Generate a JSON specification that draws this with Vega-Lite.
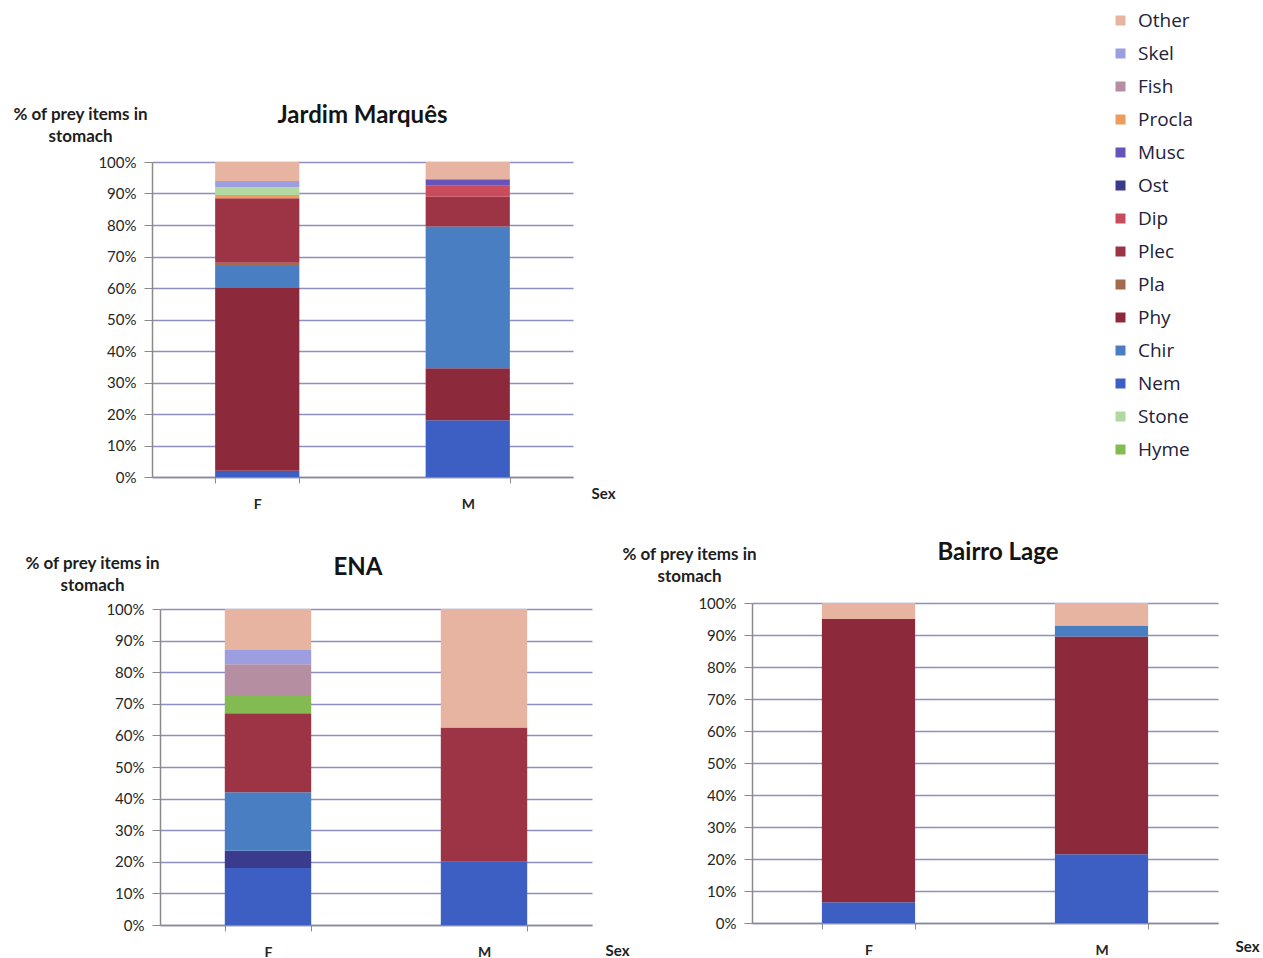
{
  "$schema": "https://vega.github.io/schema/vega-lite/v6.json",
  "autosize": {"type": "none"},
  "padding": {"left": 152, "top": 162, "right": 1111, "bottom": 796},
  "background": "white",
  "data": {
    "values": [
      {"site": "Jardim Marquês", "sex": "F", "prey": "Nem", "share": 2},
      {"site": "Jardim Marquês", "sex": "F", "prey": "Phy", "share": 58},
      {"site": "Jardim Marquês", "sex": "F", "prey": "Chir", "share": 7},
      {"site": "Jardim Marquês", "sex": "F", "prey": "Pla", "share": 1},
      {"site": "Jardim Marquês", "sex": "F", "prey": "Plec", "share": 20.5},
      {"site": "Jardim Marquês", "sex": "F", "prey": "Procla", "share": 1},
      {"site": "Jardim Marquês", "sex": "F", "prey": "Stone", "share": 2.5},
      {"site": "Jardim Marquês", "sex": "F", "prey": "Skel", "share": 2},
      {"site": "Jardim Marquês", "sex": "F", "prey": "Other", "share": 6},
      {"site": "Jardim Marquês", "sex": "M", "prey": "Nem", "share": 18},
      {"site": "Jardim Marquês", "sex": "M", "prey": "Phy", "share": 16.5},
      {"site": "Jardim Marquês", "sex": "M", "prey": "Chir", "share": 45},
      {"site": "Jardim Marquês", "sex": "M", "prey": "Plec", "share": 9.5},
      {"site": "Jardim Marquês", "sex": "M", "prey": "Dip", "share": 3.5},
      {"site": "Jardim Marquês", "sex": "M", "prey": "Musc", "share": 2},
      {"site": "Jardim Marquês", "sex": "M", "prey": "Other", "share": 5.5},
      {"site": "ENA", "sex": "F", "prey": "Nem", "share": 18},
      {"site": "ENA", "sex": "F", "prey": "Ost", "share": 5.5},
      {"site": "ENA", "sex": "F", "prey": "Chir", "share": 18.5},
      {"site": "ENA", "sex": "F", "prey": "Plec", "share": 25},
      {"site": "ENA", "sex": "F", "prey": "Hyme", "share": 5.5},
      {"site": "ENA", "sex": "F", "prey": "Fish", "share": 10},
      {"site": "ENA", "sex": "F", "prey": "Skel", "share": 4.5},
      {"site": "ENA", "sex": "F", "prey": "Other", "share": 13},
      {"site": "ENA", "sex": "M", "prey": "Nem", "share": 20},
      {"site": "ENA", "sex": "M", "prey": "Plec", "share": 42.5},
      {"site": "ENA", "sex": "M", "prey": "Other", "share": 37.5},
      {"site": "Bairro Lage", "sex": "F", "prey": "Nem", "share": 6.5},
      {"site": "Bairro Lage", "sex": "F", "prey": "Phy", "share": 88.5},
      {"site": "Bairro Lage", "sex": "F", "prey": "Other", "share": 5},
      {"site": "Bairro Lage", "sex": "M", "prey": "Nem", "share": 21.5},
      {"site": "Bairro Lage", "sex": "M", "prey": "Phy", "share": 68},
      {"site": "Bairro Lage", "sex": "M", "prey": "Chir", "share": 3.5},
      {"site": "Bairro Lage", "sex": "M", "prey": "Other", "share": 7}
    ]
  },
  "bounds": "flush",
  "spacing": 126,
  "vconcat": [
    {
      "title": {"text": "Jardim Marquês", "offset": 0, "dy": 23, "frame": "group"},
      "width": 421,
      "height": 315,
      "transform": [
        {"filter": "datum.site === 'Jardim Marquês'"},
        {"calculate": "indexof(['Nem','Phy','Ost','Chir','Pla','Plec','Dip','Musc','Procla','Stone','Hyme','Fish','Skel','Other'], datum.prey)", "as": "stackOrder"}
      ],
      "mark": {"type": "bar"},
      "encoding": {
        "x": {"field": "sex", "type": "nominal", "scale": {"paddingInner": 0.6, "paddingOuter": 0.3},
              "axis": {"title": "Sex", "titleX": 451, "titleY": 16, "tickBand": "extent"}},
        "y": {"field": "share", "type": "quantitative", "stack": "zero", "scale": {"domain": [0, 100]},
              "axis": {"title": ["% of prey items in", "stomach"], "titleX": -72, "titleY": -56,
                       "values": [0, 10, 20, 30, 40, 50, 60, 70, 80, 90, 100], "labelExpr": "datum.value + '%'"}},
        "color": {"field": "prey", "type": "nominal",
                  "scale": {"domain": ["Other", "Skel", "Fish", "Procla", "Musc", "Ost", "Dip", "Plec", "Pla", "Phy", "Chir", "Nem", "Stone", "Hyme"],
                            "range": ["#e8b4a2", "#9c9ee0", "#b68ea2", "#ec9c5c", "#6654b8", "#3b3b8e", "#c84c5c", "#9c3445", "#a46a4c", "#8c2a3c", "#4a7ec2", "#3d5ec2", "#b2d8a2", "#84ba52"]},
                  "legend": {"orient": "none", "legendX": 959, "legendY": -151, "title": null}},
        "order": {"field": "stackOrder", "type": "quantitative"}
      }
    },
    {
      "bounds": "flush",
      "spacing": 0,
      "hconcat": [
        {"data": {"values": []}, "mark": "point", "width": 8, "height": 1},
        {
          "title": {"text": "ENA", "offset": 0, "dy": 26, "dx": -18, "frame": "group"},
          "width": 432,
          "height": 322,
          "transform": [
            {"filter": "datum.site === 'ENA'"},
            {"calculate": "indexof(['Nem','Phy','Ost','Chir','Pla','Plec','Dip','Musc','Procla','Stone','Hyme','Fish','Skel','Other'], datum.prey)", "as": "stackOrder"}
          ],
          "mark": {"type": "bar"},
          "encoding": {
            "x": {"field": "sex", "type": "nominal", "scale": {"paddingInner": 0.6, "paddingOuter": 0.3},
                  "axis": {"title": "Sex", "titleX": 457, "titleY": 25, "tickBand": "extent"}},
            "y": {"field": "share", "type": "quantitative", "stack": "zero", "scale": {"domain": [0, 100], "range": [322, 6]},
                  "axis": {"title": ["% of prey items in", "stomach"], "titleX": -68, "titleY": -48,
                           "values": [0, 10, 20, 30, 40, 50, 60, 70, 80, 90, 100], "labelExpr": "datum.value + '%'"}},
            "color": {"field": "prey", "type": "nominal",
                      "legend": {"orient": "none", "legendX": 959, "legendY": -151, "title": null}},
            "order": {"field": "stackOrder", "type": "quantitative"}
          }
        },
        {"data": {"values": []}, "mark": "point", "width": 160, "height": 1},
        {
          "title": {"text": "Bairro Lage", "offset": 0, "dy": 20, "dx": 13, "frame": "group"},
          "width": 466,
          "height": 320,
          "transform": [
            {"filter": "datum.site === 'Bairro Lage'"},
            {"calculate": "indexof(['Nem','Phy','Ost','Chir','Pla','Plec','Dip','Musc','Procla','Stone','Hyme','Fish','Skel','Other'], datum.prey)", "as": "stackOrder"}
          ],
          "mark": {"type": "bar"},
          "encoding": {
            "x": {"field": "sex", "type": "nominal", "scale": {"paddingInner": 0.6, "paddingOuter": 0.3},
                  "axis": {"title": "Sex", "titleX": 495, "titleY": 23, "tickBand": "extent"}},
            "y": {"field": "share", "type": "quantitative", "stack": "zero", "scale": {"domain": [0, 100]},
                  "axis": {"title": ["% of prey items in", "stomach"], "titleX": -63, "titleY": -57,
                           "values": [0, 10, 20, 30, 40, 50, 60, 70, 80, 90, 100], "labelExpr": "datum.value + '%'"}},
            "color": {"field": "prey", "type": "nominal",
                      "legend": {"orient": "none", "legendX": 959, "legendY": -151, "title": null}},
            "order": {"field": "stackOrder", "type": "quantitative"}
          }
        }
      ]
    }
  ],
  "resolve": {"scale": {"color": "shared"}},
  "config": {
    "font": "Lato",
    "view": {"stroke": null},
    "title": {"font": "Lato", "fontSize": 24, "fontWeight": "bold", "color": "#141414", "anchor": "middle"},
    "axis": {
      "labelFont": "Lato",
      "titleFont": "Lato",
      "domainColor": "#8a8a8a",
      "tickColor": "#8a8a8a",
      "labelColor": "#262626",
      "titleColor": "#1e1e1e"
    },
    "axisY": {
      "gridColor": "#8e8ec2",
      "gridWidth": 1.5,
      "gridOpacity": 1,
      "tickSize": 8,
      "labelPadding": 8,
      "labelFontSize": 15,
      "titleFontSize": 17,
      "titleFontWeight": "bold",
      "titleAngle": 0,
      "titleAlign": "center",
      "titleBaseline": "top",
      "titleLineHeight": 22,
      "domainWidth": 1.5
    },
    "axisX": {
      "grid": false,
      "labelAngle": 0,
      "tickSize": 6,
      "labelPadding": 14,
      "labelFontSize": 14,
      "labelFontWeight": "bold",
      "titleFontSize": 15,
      "titleFontWeight": "bold",
      "titleBaseline": "middle",
      "titleAlign": "center",
      "domainWidth": 1.5
    },
    "legend": {
      "symbolType": "square",
      "symbolSize": 100,
      "symbolStrokeWidth": 0,
      "labelFont": "Open Sans",
      "labelFontSize": 19,
      "labelColor": "#22223a",
      "labelOffset": 8,
      "rowPadding": 13
    }
  }
}
